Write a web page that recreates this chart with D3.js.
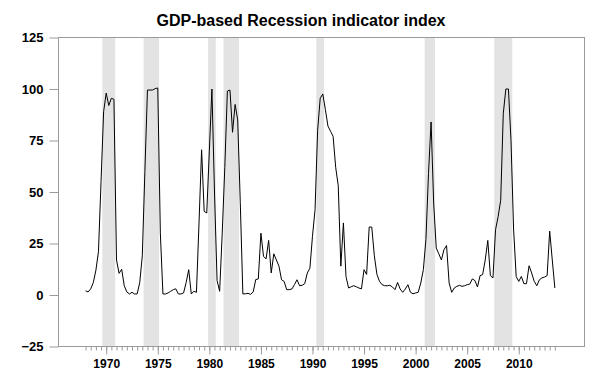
<!DOCTYPE html>
<html><head><meta charset="utf-8">
<script src="https://cdn.jsdelivr.net/npm/d3@7"></script>
<style>body{margin:0;background:#fff} svg{display:block}</style>
</head><body><svg id="c" width="600" height="379"></svg>
<script>
const title = "GDP-based Recession indicator index";
const firstYear = 1968; // first observation is 1968Q1, quarterly
const indexValues = [
  2, 1.5, 3, 6, 12, 21, 55, 89, 98, 92,
  95.5, 95, 17, 10.5, 12.5, 4.5, 1.5, 0.5, 1.3, 0.5,
  0.5, 6, 19, 60, 99.5, 99.5, 99.5, 100.2, 100.5, 30,
  0.5, 0.5, 1, 1.8, 2.6, 3, 0.5, 0.5, 1, 6,
  12.3, 0.5, 1.8, 1.3, 35, 70.5, 40.6, 39.8, 70, 100,
  50, 7, 1.8, 30, 62, 99, 99.5, 79, 92.5, 85,
  45, 0.5, 0.6, 0.8, 0.3, 1.5, 7.5, 7.8, 30, 18.8,
  17.5, 26.5, 10.7, 20, 17, 14, 7.4, 6.6, 2.6, 2.6,
  2.9, 5, 7.4, 4.5, 4.7, 5.5, 10.7, 13, 28.5, 41.4,
  80, 95.5, 97.6, 90, 82, 79.5, 77, 62, 53, 14,
  35, 9, 3.4, 4, 4.5, 4, 3.4, 3, 12.3, 10,
  33, 33, 19, 10, 6.6, 5, 4.5, 4.5, 4.7, 3.9,
  2.6, 6.1, 2.9, 1.3, 2.9, 5, 1.3, 0.6, 1, 1.3,
  5.8, 12.3, 27, 59, 84, 44.7, 22.8, 20, 17, 22,
  24, 5.8, 1.3, 3.4, 4.2, 4.7, 4.2, 4.5, 5, 5.3,
  7.8, 7, 3.9, 9.4, 9.9, 17, 26.5, 9.4, 8.3, 31.7,
  38, 46, 88, 100, 100, 75, 32, 9, 6.6, 9,
  5.5, 5.5, 14.2, 10.7, 6.6, 4.5, 7.4, 8.3, 8.7, 9.4,
  31, 17, 3.4
];
const recessionStarts = ["1969Q4","1973Q4","1980Q1","1981Q3","1990Q3","2001Q1","2007Q4"];
const recessionEnds   = ["1970Q4","1975Q1","1980Q3","1982Q4","1991Q1","2001Q4","2009Q2"];
const yTicks = [-25, 0, 25, 50, 75, 100, 125];
const xTickYears = [1970, 1975, 1980, 1985, 1990, 1995, 2000, 2005, 2010];

const svg = d3.select("#c");
const W = 600, H = 379;
const L = 58.5, R = 584.5, T = 37.5, B = 346.5;

function qStart(s){ return +s.slice(0,4) + (+s.slice(5) - 1) / 4; }
const obsTime = i => firstYear + i / 4 + 0.125;
const data = indexValues.map((v, i) => ({t: obsTime(i), v}));

const x = d3.scaleLinear().domain([1965.5, 2016.5]).range([L, R]);
const y = d3.scaleLinear().domain([-25, 125]).range([B, T]);

svg.append("rect").attr("width", W).attr("height", H).attr("fill", "#fff");

// recession shading
svg.append("g").selectAll("rect")
  .data(recessionStarts.map((s, i) => ({s: qStart(s), e: qStart(recessionEnds[i]) + 0.25})))
  .join("rect")
  .attr("x", d => x(d.s)).attr("width", d => x(d.e) - x(d.s))
  .attr("y", T).attr("height", B - T)
  .attr("fill", "#e3e3e3");

// frame
svg.append("rect").attr("x", L).attr("y", T).attr("width", R - L).attr("height", B - T)
  .attr("fill", "none").attr("stroke", "#9a9a9a").attr("stroke-width", 1);

// y axis
const yAxis = svg.append("g").attr("transform", `translate(${L},0)`)
  .call(d3.axisLeft(y).tickValues(yTicks).tickSize(9).tickPadding(6));
yAxis.select(".domain").remove();
yAxis.selectAll("line").attr("stroke", "#9a9a9a");
yAxis.selectAll("text").attr("font-family", "'Liberation Sans', Arial, sans-serif")
  .attr("font-size", 13).attr("font-weight", "bold").attr("fill", "#000");

// x minor ticks (every two quarters)
const minorTimes = d3.range(0, indexValues.length, 2).map(obsTime);
const xMinor = svg.append("g").attr("transform", `translate(0,${B})`)
  .call(d3.axisBottom(x).tickValues(minorTimes).tickSize(4).tickFormat(""));
xMinor.select(".domain").remove();
xMinor.selectAll("line").attr("stroke", "#9a9a9a");

// x major ticks
const xMajor = svg.append("g").attr("transform", `translate(0,${B})`)
  .call(d3.axisBottom(x).tickValues(xTickYears.map(yr => yr + 0.125)).tickSize(8)
    .tickFormat((d, i) => String(xTickYears[i])));
xMajor.select(".domain").remove();
xMajor.selectAll("line").attr("stroke", "#9a9a9a");
xMajor.selectAll("text")
  .attr("y", 21).attr("dy", 0)
  .attr("font-family", "'Liberation Sans Narrow', 'Arial Narrow', sans-serif")
  .attr("font-size", 12).attr("font-weight", "bold").attr("fill", "#000");

// line
svg.append("path").datum(data)
  .attr("fill", "none").attr("stroke", "#000").attr("stroke-width", 1)
  .attr("d", d3.line().x(d => x(d.t)).y(d => y(d.v)));

// title
svg.append("text").attr("x", 301).attr("y", 25.5).attr("text-anchor", "middle")
  .attr("font-family", "'Liberation Sans', Arial, sans-serif").attr("font-weight", "bold")
  .attr("font-size", 16).attr("fill", "#000").text(title);
</script></body></html>
